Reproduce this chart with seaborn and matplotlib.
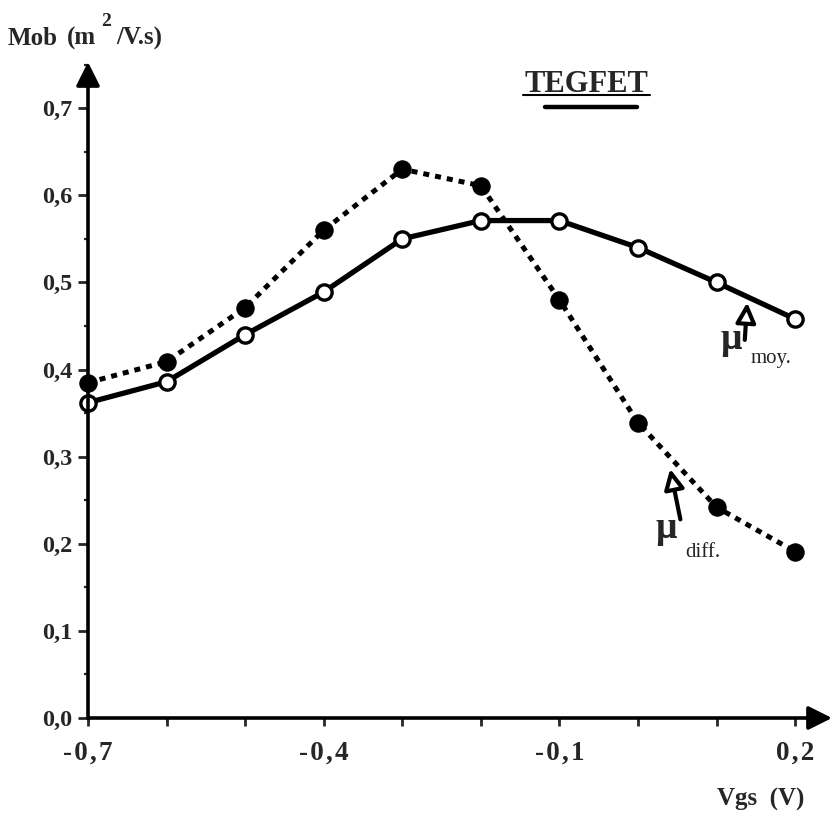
import matplotlib
matplotlib.use("Agg")
import matplotlib.pyplot as plt
import seaborn as sns
import pandas as pd
import numpy as np
from matplotlib.ticker import FixedLocator, FixedFormatter, MultipleLocator

# ---------------- data ----------------
vgs = [-0.7, -0.6, -0.5, -0.4, -0.3, -0.2, -0.1, 0.0, 0.1, 0.2]
mu_diff = [0.385, 0.409, 0.471, 0.560, 0.630, 0.611, 0.480, 0.339, 0.242, 0.191]
mu_moy = [0.362, 0.386, 0.440, 0.489, 0.550, 0.571, 0.571, 0.540, 0.500, 0.458]
x_tick_values = [-0.7, -0.4, -0.1, 0.2]
x_tick_labels = ["-\u200a0\u200a,\u200a7", "-\u200a0\u200a,\u200a4", "-\u200a0\u200a,\u200a1", "0\u200a,\u200a2"]
y_tick_values = [0.0, 0.1, 0.2, 0.3, 0.4, 0.5, 0.6, 0.7]
y_tick_labels = ["0,0", "0,1", "0,2", "0,3", "0,4", "0,5", "0,6", "0,7"]

df_diff = pd.DataFrame({"Vgs": vgs, "mob": mu_diff})
df_moy = pd.DataFrame({"Vgs": vgs, "mob": mu_moy})

sns.set_theme(style="white")
plt.rcParams["font.family"] = ["Liberation Serif", "DejaVu Serif"]
plt.rcParams["font.weight"] = "bold"

W, H = 833, 823
fig = plt.figure(figsize=(W / 100, H / 100), dpi=100)
ax = fig.add_axes([88 / W, (H - 718) / H, 744 / W, 656 / H])
ax.set_facecolor("white")

# solid line: mean mobility (open circles)
sns.lineplot(data=df_moy, x="Vgs", y="mob", ax=ax, color="black", lw=3.8,
             marker="o", markersize=11, markerfacecolor="white",
             markeredgecolor="black", markeredgewidth=2.4, clip_on=False,
             zorder=3)
# dotted line: differential mobility (filled circles)
sns.lineplot(data=df_diff, x="Vgs", y="mob", ax=ax, color="black", lw=3.6,
             dashes=False, marker="o", markersize=12.5,
             markerfacecolor="black", markeredgecolor="black",
             clip_on=False, zorder=4)
line = ax.get_lines()[-1]
line.set_dashes([1.2, 1.2])
line.set_dash_capstyle("butt")

ax.set_xlim(-0.7, 0.247)
ax.set_ylim(0, 0.753)
ax.set_xlabel("")
ax.set_ylabel("")
for s in ax.spines.values():
    s.set_visible(False)

# axis arrows
arrow_kw = dict(arrowstyle="-|>", lw=2.6, color="black", mutation_scale=36,
                shrinkA=0, shrinkB=0)
ax.annotate("", xy=(1, 0), xytext=(0, 0), xycoords="axes fraction",
            arrowprops=arrow_kw, annotation_clip=False)
ax.annotate("", xy=(0, 1), xytext=(0, 0), xycoords="axes fraction",
            arrowprops=arrow_kw, annotation_clip=False)

# ticks
ax.xaxis.set_major_locator(FixedLocator(vgs))
ax.set_xticklabels(["" if v not in x_tick_values else
                    x_tick_labels[x_tick_values.index(v)] for v in vgs])
ax.yaxis.set_major_locator(FixedLocator(y_tick_values))
ax.yaxis.set_major_formatter(FixedFormatter(y_tick_labels))
ax.yaxis.set_minor_locator(MultipleLocator(0.05))
ax.tick_params(axis="x", which="major", direction="out", length=6, width=2,
               pad=10, labelsize=19.5, bottom=True)
ax.tick_params(axis="y", which="major", direction="out", length=7, width=2,
               pad=4, labelsize=17.5, left=True)
ax.tick_params(axis="y", which="minor", direction="out", length=3, width=1.6,
               left=True)
for t in ax.get_xticklabels() + ax.get_yticklabels():
    t.set_fontweight("bold")

# axis titles
def fx(px):
    return px / W

def fy(py):
    return 1 - py / H

fig.text(fx(8), fy(45), "Mob", fontsize=18, fontweight="bold", va="baseline")
fig.text(fx(67), fy(45), "(m", fontsize=18, fontweight="bold", va="baseline")
fig.text(fx(101), fy(26), "2", fontsize=14, fontweight="bold", va="baseline")
fig.text(fx(116), fy(45), "/V.s)", fontsize=18, fontweight="bold", va="baseline")
fig.text(fx(761), fy(806), "Vgs  (V)", fontsize=18, fontweight="bold",
         va="baseline", ha="center")

# TEGFET label with underline
fig.text(fx(586), fy(92), "TEGFET", fontsize=22, fontweight="bold",
         va="baseline", ha="center")
fig.add_artist(plt.Line2D([fx(523), fx(650)], [fy(95), fy(95)], color="black",
                          lw=1.5))
fig.add_artist(plt.Line2D([fx(545), fx(637)], [fy(107), fy(107)], color="black",
                          lw=3.2, solid_capstyle="round"))

# curve labels with arrows
ann_kw = dict(arrowstyle="-|>", lw=3.0, ec="black", fc="white",
              mutation_scale=30, shrinkA=0, shrinkB=0)
ax.annotate("", xy=(0.139, 0.477), xytext=(0.136, 0.434), arrowprops=ann_kw)
ax.annotate("", xy=(0.041, 0.286), xytext=(0.054, 0.228), arrowprops=ann_kw)
ax.text(0.105, 0.423, "\u03bc", fontsize=27, fontweight="bold",
        va="baseline", ha="left")
ax.text(0.143, 0.407, "moy.", fontsize=15, fontweight="normal",
        va="baseline", ha="left")
ax.text(0.022, 0.207, "\u03bc", fontsize=27, fontweight="bold",
        va="baseline", ha="left")
ax.text(0.060, 0.185, "diff.", fontsize=15, fontweight="normal",
        va="baseline", ha="left")

fig.savefig("out.png", dpi=100, facecolor="white")
